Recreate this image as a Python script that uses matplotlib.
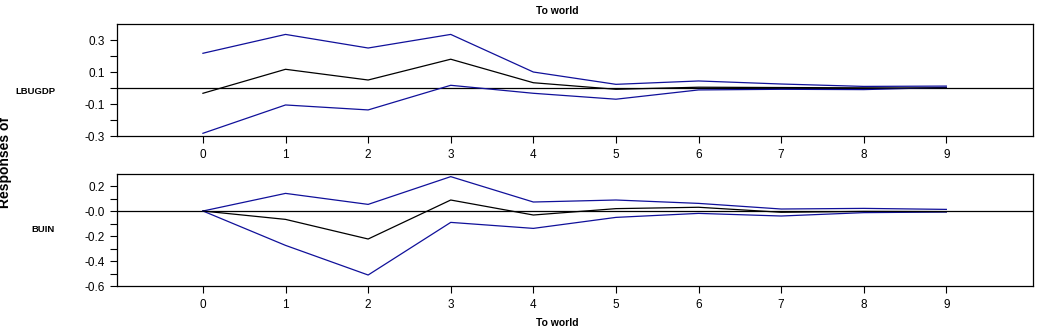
import matplotlib
matplotlib.use("Agg")
from matplotlib import pyplot as plt
from matplotlib.ticker import FixedLocator

plt.rcParams['font.family'] = ['Liberation Sans', 'DejaVu Sans']

steps = [0, 1, 2, 3, 4, 5, 6, 7, 8, 9]

# LBUGDP response to world
gdp_mid = [-0.033, 0.117, 0.050, 0.180, 0.033, -0.008, 0.005, 0.003, 0.001, 0.000]
gdp_up = [0.217, 0.335, 0.250, 0.335, 0.100, 0.023, 0.044, 0.025, 0.010, 0.012]
gdp_lo = [-0.283, -0.106, -0.137, 0.017, -0.033, -0.070, -0.012, -0.008, -0.010, 0.004]

# BUIN response to world
buin_mid = [0.000, -0.067, -0.224, 0.088, -0.032, 0.019, 0.030, -0.010, -0.003, -0.005]
buin_up = [0.000, 0.141, 0.053, 0.275, 0.072, 0.088, 0.061, 0.016, 0.021, 0.013]
buin_lo = [0.000, -0.275, -0.512, -0.091, -0.139, -0.051, -0.019, -0.040, -0.013, -0.008]

gdp_ticks = [0.3, 0.1, -0.1, -0.3]
gdp_labels = ['0.3', '0.1', '-0.1', '-0.3']
buin_ticks = [0.2, 0.0, -0.2, -0.4, -0.6]
buin_labels = ['0.2', '-0.0', '-0.2', '-0.4', '-0.6']

blue = '#10109a'

fig = plt.figure(figsize=(10.6, 3.34), dpi=100)
ax1 = fig.add_axes([0.1104, 0.5928, 0.8642, 0.3353])
ax2 = fig.add_axes([0.1104, 0.1437, 0.8642, 0.3353])


def draw_panel(ax, mid, up, lo, ylim, ticks, labels, minor, name, name_y):
    ax.axhline(0, color='black', lw=0.9)
    ax.plot(steps, up, color=blue, lw=0.9)
    ax.plot(steps, lo, color=blue, lw=0.9)
    ax.plot(steps, mid, color='black', lw=0.9)
    ax.set_xlim(-1.04, 10.05)
    ax.set_ylim(*ylim)
    ax.set_xticks(steps)
    ax.set_xticklabels([str(s) for s in steps], fontsize=8.5)
    ax.set_yticks(ticks)
    ax.set_yticklabels(labels, fontsize=8.5)
    ax.yaxis.set_minor_locator(FixedLocator(minor))
    ax.tick_params(axis='both', which='both', direction='out', length=5, width=0.8, pad=4)
    for sp in ax.spines.values():
        sp.set_linewidth(0.9)
    # row label, right aligned left of the tick labels
    fig.text(55 / 1060, name_y, name, fontsize=6.8, fontweight='bold', ha='right', va='center')


draw_panel(ax1, gdp_mid, gdp_up, gdp_lo, (-0.3, 0.4), gdp_ticks, gdp_labels,
           [0.2, 0.0, -0.2], 'LBUGDP', 1 - 92 / 334)
draw_panel(ax2, buin_mid, buin_up, buin_lo, (-0.6, 0.296), buin_ticks, buin_labels,
           [0.1, -0.1, -0.3, -0.5], 'BUIN', 1 - 230 / 334)

fig.text(557 / 1060, 1 - 11 / 334, 'To world', fontsize=7.5, fontweight='bold', ha='center', va='center')
fig.text(557 / 1060, 1 - 323 / 334, 'To world', fontsize=7.5, fontweight='bold', ha='center', va='center')
fig.text(5 / 1060, 1 - 163 / 334, 'Responses of', fontsize=10, fontweight='bold', rotation=90,
         ha='center', va='center')

fig.savefig('out.png', dpi=100)
plt.close(fig)
